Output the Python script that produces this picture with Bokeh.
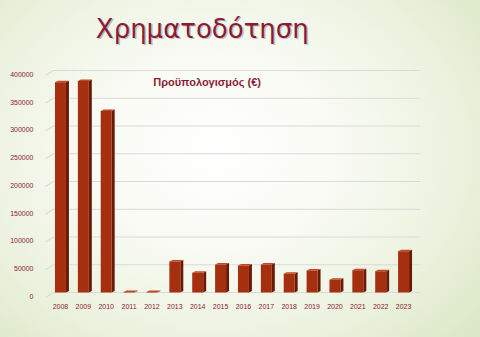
from bokeh.plotting import figure
from bokeh.models import Label, FixedTicker, InlineStyleSheet, Range1d, NumeralTickFormatter, LinearAxis
from bokeh.embed import file_html
from bokeh.resources import INLINE

years = [2008, 2009, 2010, 2011, 2012, 2013, 2014, 2015, 2016, 2017, 2018, 2019, 2020, 2021, 2022, 2023]
budget = [379000, 381000, 327000, 1000, 1000, 56000, 35500, 50500, 48500, 50500, 34000, 39500, 23000, 40000, 38500, 74500]
y_ticks = [0, 50000, 100000, 150000, 200000, 250000, 300000, 350000, 400000]
title_text = "Χρηματοδότηση"
chart_title = "Προϋπολογισμός (€)"

maroon = "#8c1c36"
front = "#a5300f"
side = "#6a1908"
top = "#c04a28"
grid_col = "#dadada"

X0, X1 = 2007.258, 2023.74
Y0, Y1 = -9009, 526126
lab_shift = 7200   # 3D perspective: value labels sit a little below the back-wall gridlines
slant = 9009       # floor-depth drop of the gridlines at the left wall

p = figure(width=480, height=337, output_backend="svg", toolbar_location=None,
           x_range=Range1d(X0, X1), y_range=Range1d(Y0, Y1),
           min_border_left=43, min_border_right=60, min_border_top=0, min_border_bottom=40)
p.extra_y_ranges = {"lab": Range1d(Y0 + lab_shift, Y1 + lab_shift)}

p.stylesheets = [InlineStyleSheet(css=":host { background: radial-gradient(ellipse 70% 80% at 45% 45%, #ffffff 0%, #f8faf2 40%, #e9f0da 78%, #dde8c8 100%); }")]
p.border_fill_alpha = 0
p.background_fill_alpha = 0
p.outline_line_color = None
p.xgrid.grid_line_color = None
p.ygrid.grid_line_color = None
p.yaxis.visible = False

gx_start = 2007.694
p.segment(x0=[2007.344] * len(y_ticks), y0=[t - slant for t in y_ticks],
          x1=[gx_start] * len(y_ticks), y1=y_ticks, line_color=grid_col, line_width=1.2)
p.segment(x0=[gx_start] * len(y_ticks), y0=y_ticks, x1=[X1] * len(y_ticks), y1=y_ticks,
          line_color=grid_col, line_width=1.2)

bw = 0.48
dx = 0.13
dy = 2700

xs_side, ys_side, xs_top, ys_top = [], [], [], []
for yr, v in zip(years, budget):
    xr = yr + bw / 2
    xl = yr - bw / 2
    xs_side.append([xr, xr + dx, xr + dx, xr])
    ys_side.append([0, dy, v + dy, v])
    xs_top.append([xl, xl + dx, xr + dx, xr])
    ys_top.append([v, v + dy, v + dy, v])

p.patches(xs_side, ys_side, fill_color=side, line_color=None)
p.patches(xs_top, ys_top, fill_color=top, line_color=None)
p.vbar(x=years, top=budget, width=bw, fill_color=front, line_color=None)

yax = LinearAxis(y_range_name="lab", ticker=FixedTicker(ticks=y_ticks), formatter=NumeralTickFormatter(format="0"))
p.add_layout(yax, "left")
p.xaxis.ticker = FixedTicker(ticks=years)
for ax in (p.xaxis[0], yax):
    ax.axis_line_color = None
    ax.major_tick_line_color = None
    ax.minor_tick_line_color = None
    ax.major_label_text_font = "Liberation Sans"
    ax.major_label_text_font_size = "7px"
    ax.major_label_text_color = maroon
p.xaxis.major_label_standoff = 0
yax.major_label_standoff = 4

p.add_layout(Label(x=2014.41, y=378400, text=chart_title, text_align="center", text_baseline="middle",
                   text_font="Liberation Sans", text_font_style="bold", text_font_size="11px", text_color=maroon))

p.add_layout(Label(x=2014.2, y=475000, text=title_text, text_align="center", text_baseline="middle",
                   x_offset=1.5, y_offset=-1.5,
                   text_font="DejaVu Sans", text_font_size="26px", text_color="#9a9a9a", text_alpha=0.6))
p.add_layout(Label(x=2014.2, y=475000, text=title_text, text_align="center", text_baseline="middle",
                   text_font="DejaVu Sans", text_font_size="26px", text_color=maroon))

open("out.html", "w").write(file_html(p, INLINE))
